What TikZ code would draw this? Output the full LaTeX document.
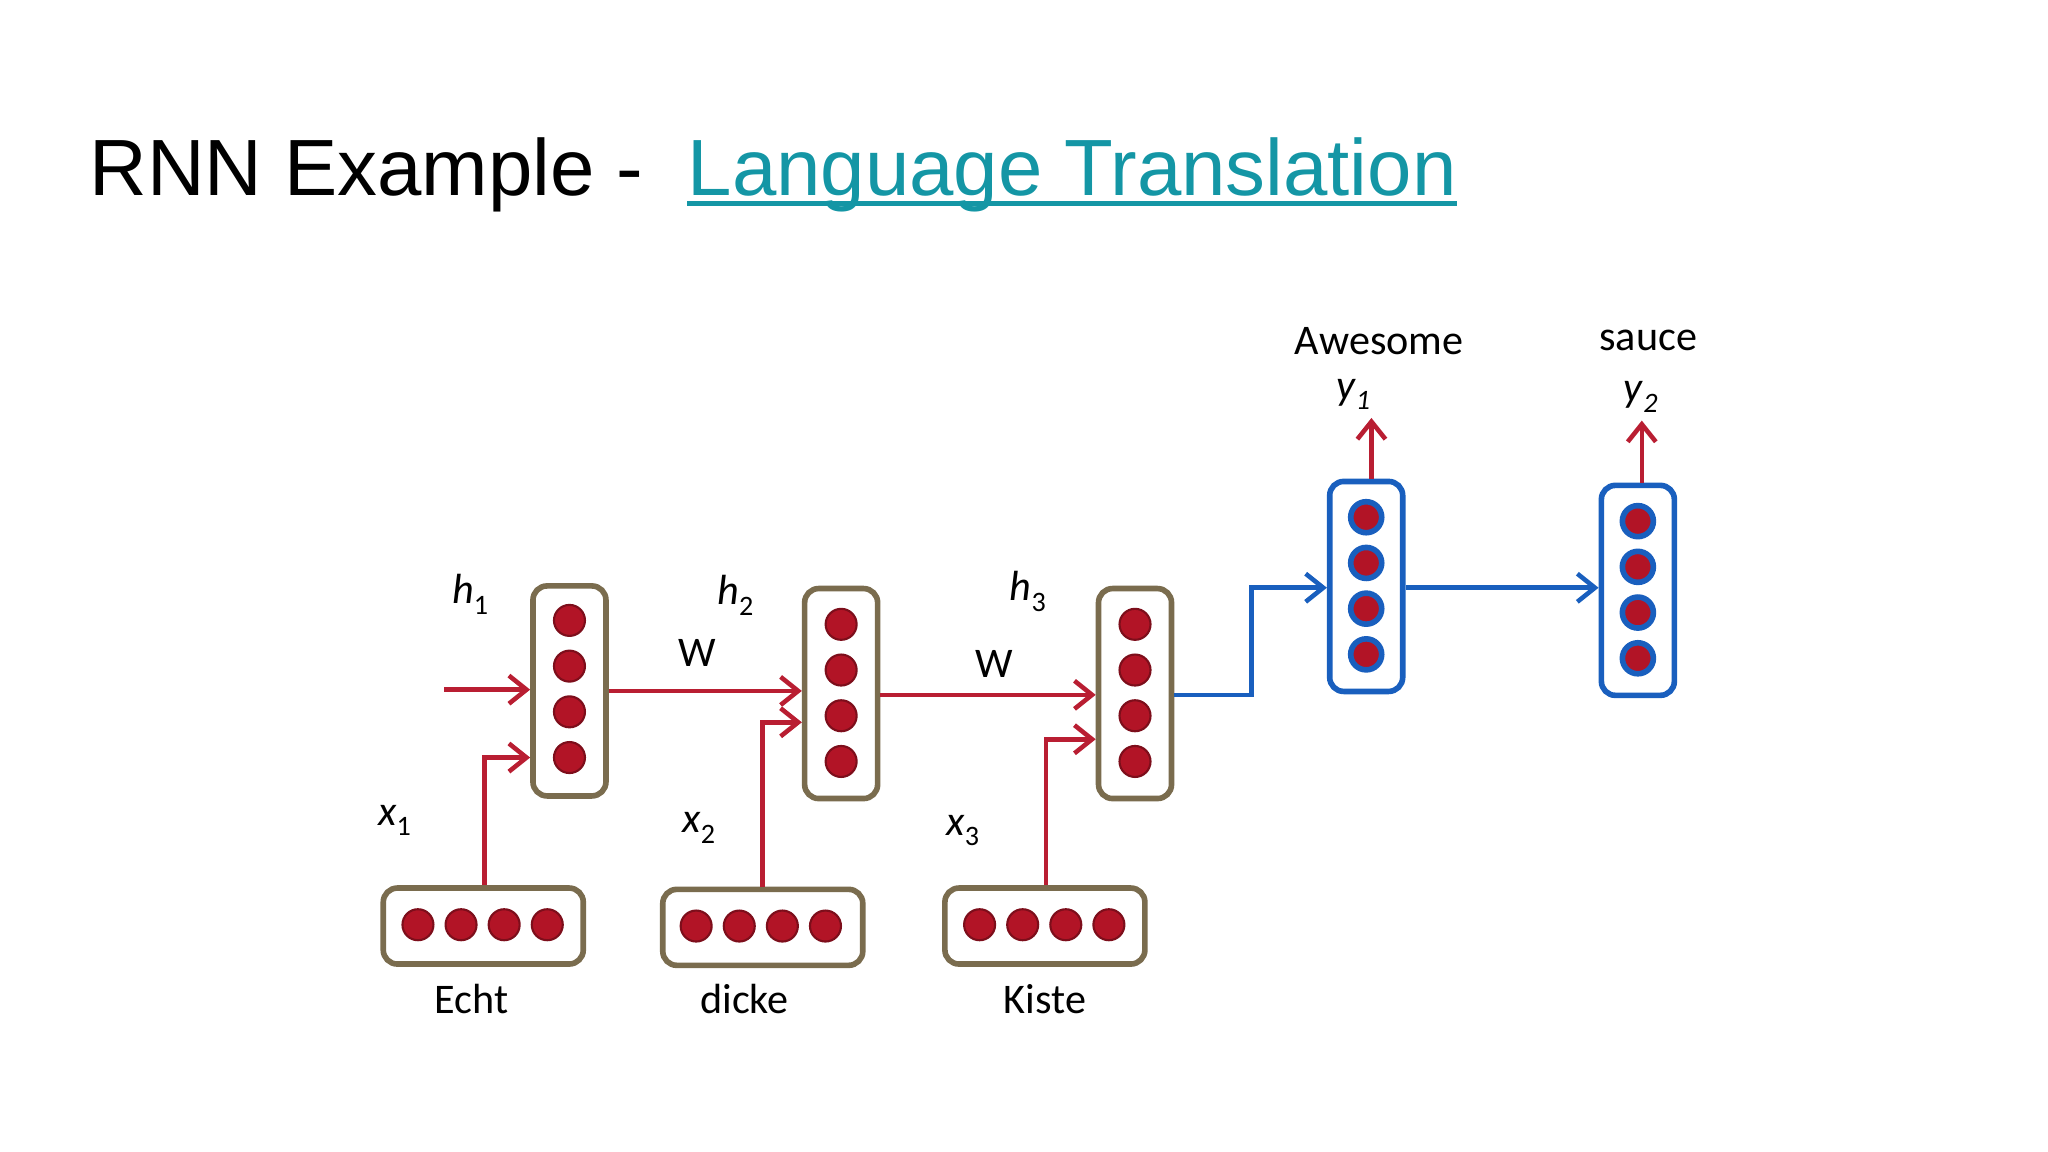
\documentclass[tikz,border=0pt]{standalone}
\usepackage{fontspec}
\setmainfont{Carlito}
\newfontfamily\titlefont{Liberation Sans}
\usetikzlibrary{arrows.meta}
\definecolor{dotred}{RGB}{178,20,38}
\definecolor{arrred}{RGB}{185,30,50}
\definecolor{boxbrown}{RGB}{122,108,78}
\definecolor{myblue}{RGB}{25,95,190}
\definecolor{linkteal}{RGB}{20,150,165}
\newcommand{\sbs}[1]{\raisebox{-0.25em}{\fontsize{8}{9}\selectfont #1}}
\tikzset{
  hbox/.style={draw=boxbrown,line width=1.6pt,rounded corners=4pt,fill=white},
  obox/.style={draw=myblue,line width=1.6pt,rounded corners=4pt,fill=white},
  rdot/.style={circle,fill=dotred,draw=dotred!70!black,line width=0.6pt,inner sep=0pt,minimum size=0.31cm},
  bdot/.style={circle,fill=dotred,draw=myblue,line width=1.6pt,inner sep=0pt,minimum size=0.31cm},
  rarr/.style={draw=arrred,line width=1.3pt,-{Straight Barb[length=5pt,width=8pt,line width=1.3pt]}},
  barr/.style={draw=myblue,line width=1.3pt,-{Straight Barb[length=5pt,width=8pt,line width=1.3pt]}},
  lbl/.style={font=\fontsize{12}{14}\selectfont,inner sep=0pt},
}
\begin{document}
\begin{tikzpicture}[x=0.013061cm,y=-0.013061cm]
\useasboundingbox (0,0) rectangle (1568,882);
\node[anchor=base west,inner sep=0pt,font=\titlefont\fontsize{22.7}{26}\selectfont] (title) at (68,150) {RNN Example -};
\node[anchor=base west,inner sep=0pt,text=linkteal,font=\titlefont\fontsize{22.7}{26}\selectfont] (link) at (526,150) {Language Translation};
\draw[linkteal,line width=1.3pt] (link.base west) ++(0,6) coordinate (ul1) -- (ul1 -| link.east);
% hidden boxes
\node[hbox,minimum width=0.73cm,minimum height=2.1cm] (h1) at (436,529) {};
\node[hbox,minimum width=0.73cm,minimum height=2.1cm] (h2) at (644,531) {};
\node[hbox,minimum width=0.73cm,minimum height=2.1cm] (h3) at (869,531) {};
\node[obox,minimum width=0.73cm,minimum height=2.1cm] (y1b) at (1046,449) {};
\node[obox,minimum width=0.73cm,minimum height=2.1cm] (y2b) at (1254,452) {};
\foreach \y [count=\i] in {475,510,545,580} \node[rdot] (h1d\i) at (436,\y) {};
\foreach \y [count=\i] in {478,513,548,583} \node[rdot] (h2d\i) at (644,\y) {};
\foreach \y [count=\i] in {478,513,548,583} \node[rdot] (h3d\i) at (869,\y) {};
\foreach \y [count=\i] in {396,431,466,501} \node[bdot] (y1d\i) at (1046,\y) {};
\foreach \y [count=\i] in {399,434,469,504} \node[bdot] (y2d\i) at (1254,\y) {};
% input boxes
\node[hbox,minimum width=2cm,minimum height=0.76cm] (e1) at (370,709) {};
\node[hbox,minimum width=2cm,minimum height=0.76cm] (e2) at (584,710) {};
\node[hbox,minimum width=2cm,minimum height=0.76cm] (e3) at (800,709) {};
\foreach \x [count=\i] in {320,353,386,419} \node[rdot] (e1d\i) at (\x,708) {};
\foreach \x [count=\i] in {533,566,599,632} \node[rdot] (e2d\i) at (\x,709) {};
\foreach \x [count=\i] in {750,783,816,849} \node[rdot] (e3d\i) at (\x,708) {};
% arrows
\coordinate (start) at (340,528);
\draw[rarr] (start) -- (start -| h1.west);
\draw[rarr] (h1.east |- 0,529) -- (h2.west |- 0,529);
\draw[rarr] (h2.east |- 0,532) -- (h3.west |- 0,532);
\draw[rarr] (e1.north -| 371,0) |- (h1.west |- 0,580);
\draw[rarr] (e2.north) |- (h2.west |- 0,553);
\draw[rarr] (e3.north -| 801,0) |- (h3.west |- 0,566);
\draw[barr] (h3.east |- 0,532) -- (958,532) |- (y1b.west |- 0,450);
\draw[barr] (y1b.east |- 0,450) -- (y2b.west |- 0,450);
\draw[rarr] (y1b.north -| 1050,0) -- (1050,320);
\draw[rarr] (y2b.north -| 1257,0) -- (1257,322);
% labels
\node[lbl] (lh1) at (360,455) {\textit{h}\sbs{1}};
\node[lbl] (lh2) at (563,456) {\textit{h}\sbs{2}};
\node[lbl] (lh3) at (787,453) {\textit{h}\sbs{3}};
\node[lbl] (w1) at (534,500) {W};
\node[lbl] (w2) at (761,508) {W};
\node[lbl] (lx1) at (302,628) {\textit{x}\sbs{1}};
\node[lbl] (lx2) at (535,634) {\textit{x}\sbs{2}};
\node[lbl] (lx3) at (737,636) {\textit{x}\sbs{3}};
\node[lbl] (ly1) at (1036,302) {\textit{y}\sbs{\textit{1}}};
\node[lbl] (ly2) at (1256,304) {\textit{y}\sbs{\textit{2}}};
\node[lbl] (aw) at (1056,261) {Awesome};
\node[lbl] (sa) at (1262,261) {sauce};
\node[lbl] (t1) at (361,765) {Echt};
\node[lbl] (t2) at (570,765) {dicke};
\node[lbl] (t3) at (800,765) {Kiste};
\end{tikzpicture}
\end{document}
